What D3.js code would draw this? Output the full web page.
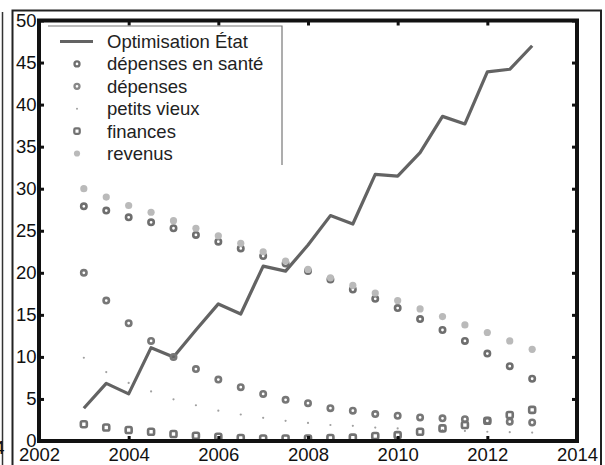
<!DOCTYPE html>
<html><head><meta charset="utf-8">
<script src="https://cdn.jsdelivr.net/npm/d3@7"></script>
<style>
body{margin:0;background:#fff;}
svg{display:block;}
text{font-family:"Liberation Sans",Arial,sans-serif;}
</style>
</head><body><svg id="c" width="605" height="465"></svg>
<script>
const years = [2003,2003.5,2004,2004.5,2005,2005.5,2006,2006.5,2007,2007.5,2008,2008.5,2009,2009.5,2010,2010.5,2011,2011.5,2012,2012.5,2013];
const optimisationEtat = [3.9,6.85,5.6,11.1,10.0,13.2,16.3,15.1,20.8,20.2,23.3,26.8,25.8,31.7,31.5,34.3,38.6,37.7,43.9,44.2,47.0];
const depensesSante = [27.9,27.4,26.6,26.0,25.3,24.5,23.7,22.9,22.0,21.1,20.2,19.2,18.0,16.9,15.8,14.5,13.2,11.9,10.4,8.9,7.4];
const depenses = [20.0,16.7,14.0,11.9,10.0,8.55,7.3,6.4,5.6,4.9,4.5,3.9,3.6,3.2,3.0,2.8,2.7,2.6,2.4,2.3,2.2];
const petitsVieux = [9.9,8.2,6.9,5.9,4.95,4.25,3.6,3.15,2.75,2.4,2.15,1.9,1.8,1.6,1.5,1.4,1.3,1.2,1.1,1.05,1.0];
const finances = [2.0,1.6,1.3,1.1,0.83,0.63,0.5,0.35,0.3,0.3,0.3,0.35,0.4,0.6,0.7,1.1,1.5,1.9,2.4,3.1,3.7];
const revenus = [30.0,29.0,28.0,27.2,26.2,25.3,24.4,23.5,22.5,21.4,20.4,19.4,18.5,17.6,16.7,15.7,14.8,13.8,12.9,11.9,10.9];
const xTicks = [2002,2004,2006,2008,2010,2012,2014];
const yTicks = [0,5,10,15,20,25,30,35,40,45,50];
const legendLabels = ["Optimisation État","dépenses en santé","dépenses","petits vieux","finances","revenus"];

const svg = d3.select("#c");
const x = d3.scaleLinear().domain([2002,2014]).range([39,577]);
const y = d3.scaleLinear().domain([0,50]).range([441,20.5]);
const FS = 18.5;

// outer frames
svg.append("path").attr("d","M2.5,12V465").attr("stroke","#333").attr("stroke-width",1.5).attr("fill","none");
svg.append("path").attr("d","M12.5,465V10.5H601V465").attr("stroke","#222").attr("stroke-width",2).attr("fill","none");
svg.append("text").attr("x",4.5).attr("y",454).attr("text-anchor","end").attr("font-size",FS).attr("fill","#111").text("4");

// line
const line = d3.line().x((d,i)=>x(years[i])).y(d=>y(d));
svg.append("path").datum(optimisationEtat).attr("d",line)
  .attr("fill","none").attr("stroke","#636363").attr("stroke-width",3.2).attr("stroke-linejoin","round");

function circles(data, color){
  svg.append("g").selectAll("circle").data(data).join("circle")
    .attr("cx",(d,i)=>x(years[i])).attr("cy",d=>y(d)).attr("r",2.7)
    .attr("fill","none").attr("stroke",color).attr("stroke-width",2.6);
}
circles(depensesSante,"#6e6e6e");
circles(depenses,"#777777");
svg.append("g").selectAll("circle").data(petitsVieux).join("circle")
  .attr("cx",(d,i)=>x(years[i])).attr("cy",d=>y(d)).attr("r",1.1).attr("fill","#a0a0a0");
svg.append("g").selectAll("rect").data(finances).join("rect")
  .attr("x",(d,i)=>x(years[i])-3).attr("y",d=>y(d)-3).attr("width",6).attr("height",6).attr("rx",1.6)
  .attr("fill","none").attr("stroke","#727272").attr("stroke-width",2.6);
svg.append("g").selectAll("circle").data(revenus).join("circle")
  .attr("cx",(d,i)=>x(years[i])).attr("cy",d=>y(d)).attr("r",3.6).attr("fill","#bababa");

// axes
const ax = (g)=>{ g.select(".domain").remove(); g.selectAll("line").attr("stroke","#111").attr("stroke-width",3); g.selectAll("text").attr("font-size",FS).attr("fill","#111").attr("font-family","Liberation Sans, Arial, sans-serif"); };
svg.append("g").attr("transform","translate(0,441)").call(d3.axisBottom(x).tickValues(xTicks).tickFormat(d3.format("d")).tickSize(-5).tickPadding(7)).call(ax);
svg.append("g").attr("transform","translate(0,20.5)").call(d3.axisTop(x).tickValues(xTicks).tickFormat("").tickSize(-5)).call(ax);
svg.append("g").attr("transform","translate(39,0)").call(d3.axisLeft(y).tickValues(yTicks).tickSize(-5).tickPadding(2.5)).call(ax);
svg.append("g").attr("transform","translate(577,0)").call(d3.axisRight(y).tickValues(yTicks).tickFormat("").tickSize(-5)).call(ax);

// frame
svg.append("rect").attr("x",x(2002)).attr("y",y(50)).attr("width",x(2014)-x(2002)).attr("height",y(0)-y(50))
  .attr("fill","none").attr("stroke","#111").attr("stroke-width",4);

// legend
const lg = svg.append("g");
lg.append("path").attr("d","M48,26H282V165").attr("fill","none").attr("stroke","#777").attr("stroke-width",1.2);
const rowY = i => 41.5 + i*22.4;
legendLabels.forEach((t,i)=>{
  lg.append("text").attr("x",107).attr("y",rowY(i)).attr("dy","0.35em").attr("font-size",FS).attr("fill","#222").text(t);
});
lg.append("line").attr("x1",60).attr("x2",93).attr("y1",rowY(0)).attr("y2",rowY(0)).attr("stroke","#636363").attr("stroke-width",3.2);
lg.append("circle").attr("cx",77).attr("cy",rowY(1)).attr("r",2.5).attr("fill","none").attr("stroke","#6e6e6e").attr("stroke-width",2.3);
lg.append("circle").attr("cx",77).attr("cy",rowY(2)).attr("r",2.5).attr("fill","none").attr("stroke","#888").attr("stroke-width",2.3);
lg.append("circle").attr("cx",77).attr("cy",rowY(3)).attr("r",1).attr("fill","#a0a0a0");
lg.append("rect").attr("x",74.3).attr("y",rowY(4)-2.7).attr("width",5.4).attr("height",5.4).attr("rx",1.3).attr("fill","none").attr("stroke","#727272").attr("stroke-width",2.3);
lg.append("circle").attr("cx",77).attr("cy",rowY(5)).attr("r",3.1).attr("fill","#bababa");
</script></body></html>
